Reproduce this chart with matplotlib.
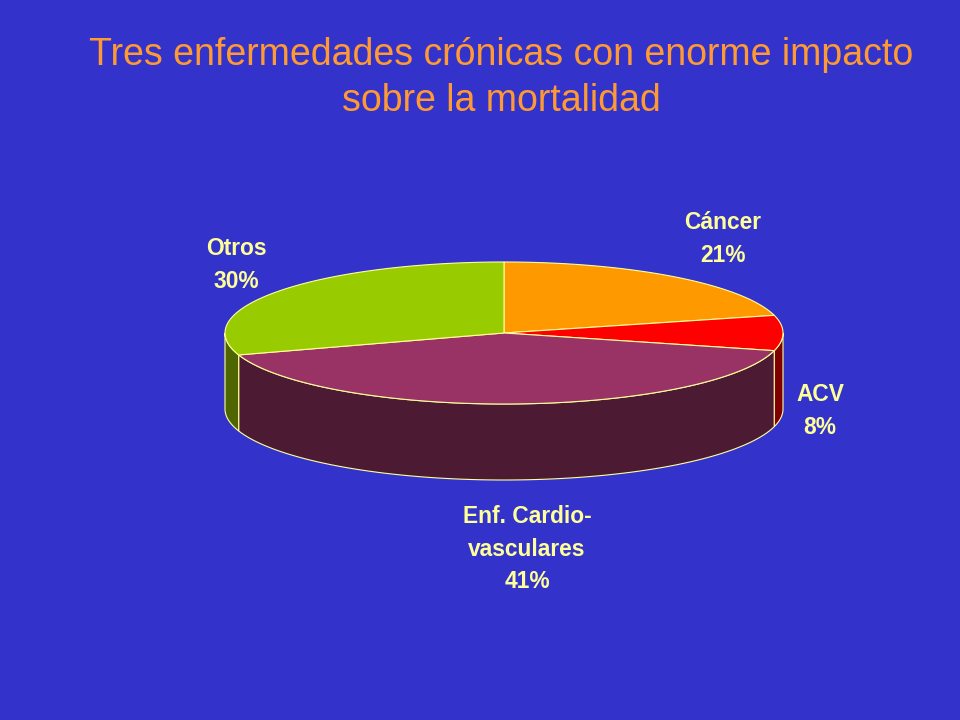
import numpy as np
import matplotlib
matplotlib.use("Agg")
import matplotlib.pyplot as plt
from matplotlib.patches import Polygon

# data
labels = ["Cáncer\n21%", "ACV\n8%", "Enf. Cardio-\nvasculares\n41%", "Otros\n30%"]
shares = [21, 8, 41, 30]
top_colors = ["#FF9900", "#FF0000", "#993366", "#99CC00"]
side_colors = ["#804D00", "#800000", "#4D1A33", "#4D6600"]
label_pos = [(723, 239), (820, 411), (527, 549), (236, 265)]

title = "Tres enfermedades crónicas con enorme impacto\nsobre la mortalidad"

BG = "#3333CC"
EDGE = "#FFFF99"
cx, cy = 504, 333
a, b = 279, 71
depth = 76


def arc(t0, t1, dy=0, n=80):
    t = np.radians(np.linspace(t0, t1, n))
    return np.column_stack([cx + a * np.cos(t), cy - b * np.sin(t) + dy])


fig = plt.figure(figsize=(9.6, 7.2), dpi=100, facecolor=BG)
ax = fig.add_axes([0, 0, 1, 1])
ax.set_facecolor(BG)
ax.set_xlim(0, 960)
ax.set_ylim(720, 0)
ax.axis("off")

# slice angles, clockwise from the top
fracs = np.array(shares) / sum(shares) * 360
ends = 90 - np.cumsum(fracs)
starts = ends + fracs

# side walls (front half only: angles between 180 and 360)
for s, e, col in zip(starts, ends, side_colors):
    lo, hi = e, s
    for shift in (0, 360, -360):
        l2, h2 = max(lo + shift, 180), min(hi + shift, 360)
        if h2 > l2:
            top = arc(l2, h2)
            bot = arc(h2, l2, depth)
            ax.add_patch(Polygon(np.vstack([top, bot]), closed=True,
                                 facecolor=col, edgecolor=EDGE, lw=0.8))

# top faces
for s, e, col in zip(starts, ends, top_colors):
    pts = np.vstack([[cx, cy], arc(s, e)])
    ax.add_patch(Polygon(pts, closed=True, facecolor=col,
                         edgecolor=EDGE, lw=0.8))

for lab, (x, y) in zip(labels, label_pos):
    ax.text(x, y, lab, ha="center", va="center", color="#FFFF99",
            fontsize=16.4, fontweight="bold", family="Liberation Sans",
            linespacing=1.55)

ax.text(501, 78, title, ha="center", va="center", color="#FF9933",
        fontsize=27, family="Liberation Sans", linespacing=1.35)

fig.savefig("out.png", dpi=100, facecolor=BG)
